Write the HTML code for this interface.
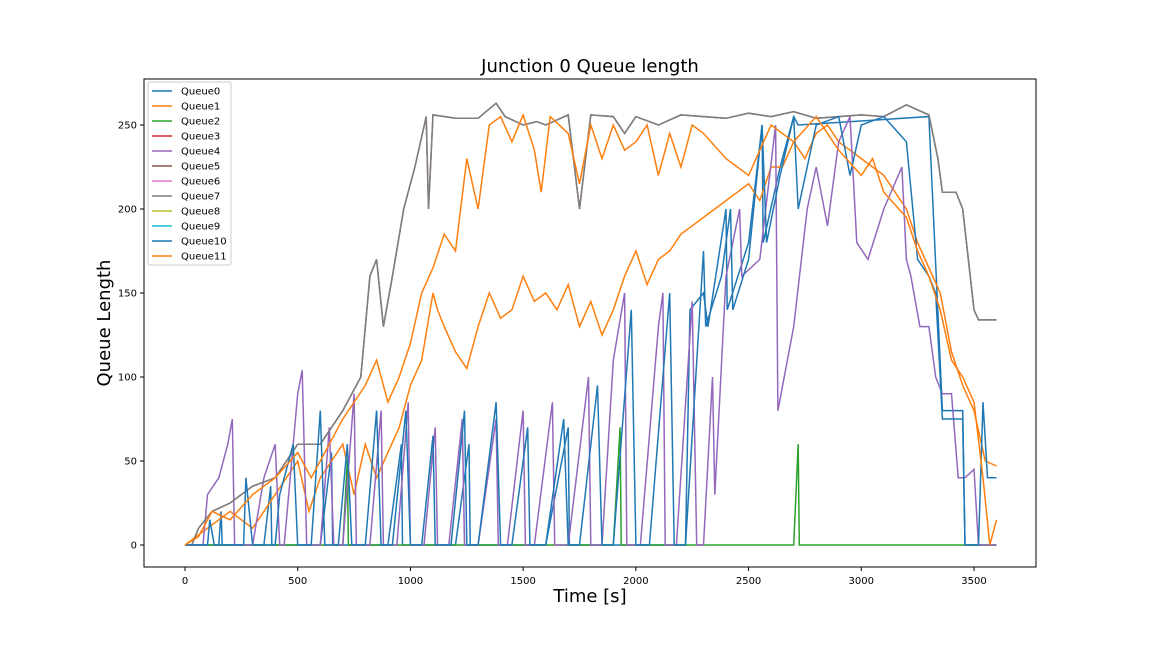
<!DOCTYPE html>
<html><head><meta charset="utf-8"><style>
body{margin:0;background:#fff;}
svg{display:block;font-family:"DejaVu Sans","Liberation Sans",sans-serif;}
</style></head><body>
<svg id="chart" width="1152" height="648" xmlns="http://www.w3.org/2000/svg">
<rect width="1152" height="648" fill="#fff"/>
<text x="590" y="72" font-size="18" text-anchor="middle">Junction 0 Queue length</text>
<text x="590" y="602" font-size="18" text-anchor="middle">Time [s]</text>
<text x="110" y="323" font-size="18" text-anchor="middle" transform="rotate(-90 110 323)">Queue Length</text>
<g id="plot"></g>
<rect x="144" y="79" width="892" height="488" fill="none" stroke="#000" stroke-width="1"/>
<g id="ticks"></g>
<g id="legend"></g>
</svg>
<script>
const xTicks=[0,500,1000,1500,2000,2500,3000,3500];
const yTicks=[0,50,100,150,200,250];
const names=["Queue0","Queue1","Queue2","Queue3","Queue4","Queue5","Queue6","Queue7","Queue8","Queue9","Queue10","Queue11"];
const colors=["#1f77b4","#ff7f0e","#2ca02c","#d62728","#9467bd","#8c564b","#e377c2","#7f7f7f","#bcbd22","#17becf","#1f77b4","#ff7f0e"];
const q10T=[0,100,110,130,260,270,300,400,420,480,500,560,600,620,680,720,740,800,850,870,920,980,1000,1050,1100,1110,1180,1240,1250,1300,1380,1400,1450,1520,1530,1600,1680,1700,1750,1830,1850,1900,1980,2000,2060,2150,2170,2220,2300,2310,2380,2420,2430,2500,2560,2580,2640,2700,2720,2800,2900,2950,3000,3100,3200,3250,3300,3330,3360,3450,3460,3520,3540,3560,3600];
const q10V=[0,0,15,0,0,40,0,0,30,60,0,0,80,0,0,60,0,0,80,0,0,80,0,0,65,0,0,80,0,0,85,0,0,70,0,0,75,0,0,95,0,0,140,0,0,150,0,0,175,130,160,200,140,170,250,180,220,255,200,250,255,220,250,255,240,170,160,150,75,75,0,0,85,40,40];
const q4T=[0,80,100,150,190,210,220,300,350,400,420,440,500,520,540,600,640,660,700,750,760,820,870,880,940,990,1000,1060,1110,1120,1170,1230,1240,1300,1380,1390,1430,1500,1510,1550,1630,1640,1700,1790,1800,1850,1900,1950,1960,2020,2100,2120,2130,2180,2250,2270,2300,2340,2350,2400,2460,2470,2550,2620,2630,2700,2760,2800,2850,2900,2950,2980,3030,3100,3180,3200,3220,3260,3300,3330,3360,3400,3430,3460,3500,3520,3560,3600];
const q4V=[0,0,30,40,60,75,0,0,40,60,0,0,90,104,0,0,70,0,0,90,0,0,80,0,0,85,0,0,70,0,0,75,0,0,75,0,0,80,0,0,85,0,0,100,0,0,110,150,0,0,130,150,0,0,145,0,0,100,30,160,200,160,170,250,80,130,200,225,190,240,255,180,170,200,225,170,160,130,130,100,90,90,40,40,45,0,0,0];
const q7T=[0,30,60,120,200,300,400,500,600,700,780,820,850,880,920,970,1020,1070,1080,1100,1200,1300,1380,1420,1500,1560,1600,1700,1750,1800,1900,1950,2000,2100,2200,2300,2400,2500,2600,2700,2800,2900,3000,3100,3200,3300,3340,3360,3420,3450,3500,3520,3600];
const q7V=[0,0,10,20,25,35,40,60,60,80,100,160,170,130,160,200,225,255,200,256,254,254,263,255,250,252,250,256,200,256,255,245,255,250,256,255,254,257,255,258,254,255,256,255,262,256,230,210,210,200,140,134,134];
const q11T=[0,60,120,200,300,400,500,560,640,700,800,850,900,950,1000,1050,1100,1150,1200,1250,1300,1350,1400,1450,1500,1550,1580,1620,1700,1750,1800,1850,1900,1950,2000,2050,2100,2150,2200,2250,2300,2400,2500,2600,2700,2800,2900,3000,3050,3100,3200,3250,3300,3350,3400,3450,3500,3540,3570,3600];
const q11V=[0,5,20,15,30,40,55,40,60,75,95,110,85,100,120,150,165,185,175,230,200,250,255,240,256,235,210,255,245,215,250,230,250,235,240,250,220,245,225,250,245,230,220,250,240,255,235,220,230,210,195,175,160,140,110,100,85,40,0,15];
const q1T=[0,100,200,300,400,500,550,600,700,750,800,850,900,950,1000,1050,1100,1120,1150,1200,1250,1300,1350,1400,1450,1500,1550,1600,1650,1700,1750,1800,1850,1900,1950,2000,2050,2100,2150,2200,2250,2300,2350,2400,2450,2500,2550,2600,2650,2700,2750,2800,2850,2900,2950,3000,3100,3200,3250,3300,3350,3400,3450,3500,3550,3600];
const q1V=[0,10,20,10,30,50,20,40,60,30,60,40,55,70,95,110,150,140,130,115,105,130,150,135,140,160,145,150,140,155,130,145,125,140,160,175,155,170,175,185,190,195,200,205,210,215,205,225,225,240,230,245,250,240,235,230,220,200,180,165,150,115,95,80,50,47];
const q0T=[0,150,160,165,350,380,385,600,650,655,900,960,965,1200,1260,1265,1600,1700,1705,2220,2240,2300,2320,2400,2405,2500,2560,2565,2640,2700,2720,3300,3360,3450,3460,3600];
const q0V=[0,0,20,0,0,35,0,0,55,0,0,60,0,0,60,0,0,70,0,0,140,150,130,200,140,180,250,180,225,255,250,255,80,80,0,0];
const q2T=[0,700,720,725,1900,1930,1935,2700,2720,2725,3600];
const q2V=[0,0,50,0,0,70,0,0,60,0,0];
const series=[[q0T,q0V,0],[q1T,q1V,1],[q2T,q2V,2],[q4T,q4V,4],[q7T,q7V,5],[q7T,q7V,7],[q10T,q10V,10],[q11T,q11V,11]];
const X=t=>185+t*(789/3500), Y=v=>545-v*1.68;
const NS="http://www.w3.org/2000/svg";
const plot=document.getElementById('plot');
series.forEach(s=>{
  const p=document.createElementNS(NS,'polyline');
  p.setAttribute('points',s[0].map((t,i)=>X(t).toFixed(1)+','+Y(s[1][i]).toFixed(1)).join(' '));
  p.setAttribute('fill','none');p.setAttribute('stroke',colors[s[2]]);p.setAttribute('stroke-width','1.5');
  
  
  plot.appendChild(p);
});
const tk=document.getElementById('ticks');
xTicks.forEach(t=>{
  const l=document.createElementNS(NS,'line');
  l.setAttribute('x1',X(t));l.setAttribute('x2',X(t));l.setAttribute('y1',567);l.setAttribute('y2',571);l.setAttribute('stroke','#000');
  
  
  tk.appendChild(l);
  const tx=document.createElementNS(NS,'text');
  tx.setAttribute('x',X(t));tx.setAttribute('y',584);tx.setAttribute('font-size','10');tx.setAttribute('text-anchor','middle');tx.textContent=t;
  
  
  tk.appendChild(tx);
});
yTicks.forEach(v=>{
  const l=document.createElementNS(NS,'line');
  l.setAttribute('x1',140);l.setAttribute('x2',144);l.setAttribute('y1',Y(v));l.setAttribute('y2',Y(v));l.setAttribute('stroke','#000');
  
  
  tk.appendChild(l);
  const tx=document.createElementNS(NS,'text');
  tx.setAttribute('x',137);tx.setAttribute('y',Y(v)+3.5);tx.setAttribute('font-size','10');tx.setAttribute('text-anchor','end');tx.textContent=v;
  
  
  tk.appendChild(tx);
});
const lg=document.getElementById('legend');
const box=document.createElementNS(NS,'rect');
box.setAttribute('x',148);box.setAttribute('y',82);box.setAttribute('width',83);box.setAttribute('height',183);box.setAttribute('rx',2);
box.setAttribute('fill','#fff');box.setAttribute('fill-opacity','0.8');box.setAttribute('stroke','#ccc');


lg.appendChild(box);
names.forEach((n,i)=>{
  const y=91+i*15;
  const l=document.createElementNS(NS,'line');
  l.setAttribute('x1',152);l.setAttribute('x2',172);l.setAttribute('y1',y);l.setAttribute('y2',y);l.setAttribute('stroke',colors[i]);l.setAttribute('stroke-width','1.5');
  
  
  lg.appendChild(l);
  const tx=document.createElementNS(NS,'text');
  tx.setAttribute('x',181);tx.setAttribute('y',y+3.5);tx.setAttribute('font-size','10');tx.textContent=n;
  
  
  lg.appendChild(tx);
});
</script>
</body></html>
